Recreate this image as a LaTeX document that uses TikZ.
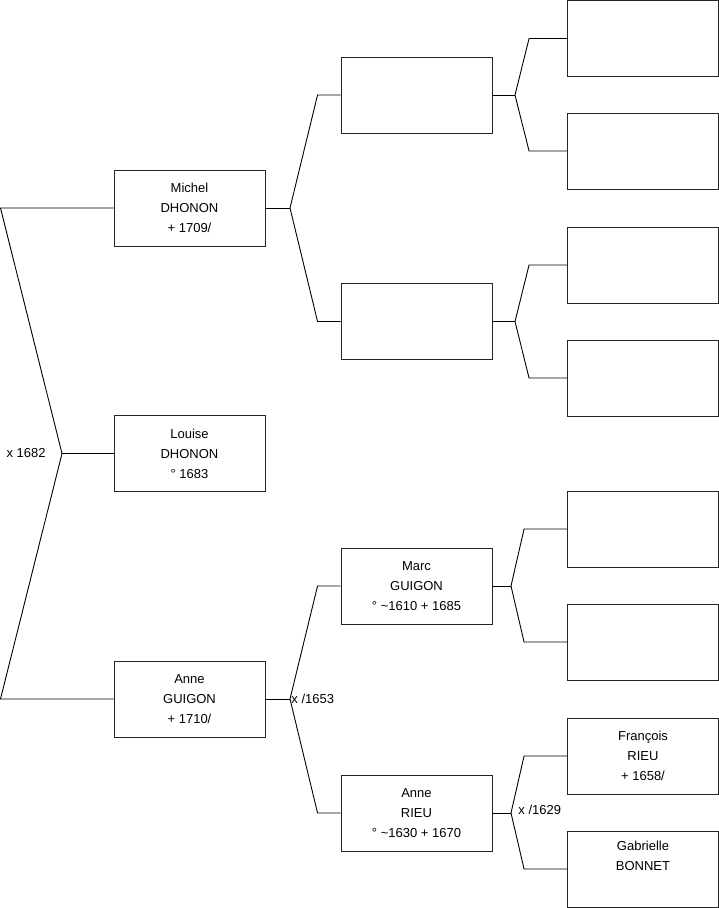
\documentclass[tikz,border=0pt]{standalone}
\usepackage{fontspec}
\setmainfont{Liberation Sans}
\usetikzlibrary{positioning}

\begin{document}
\begin{tikzpicture}[x=1pt,y=-1pt,line width=0.9pt]
    \tikzstyle{person}=[draw=black!85,fill=white,minimum width=151pt,minimum height=76pt,inner sep=0pt,font=\fontsize{13}{20}\selectfont,align=center]
    \tikzstyle{union}=[font=\fontsize{13}{15}\selectfont,inner sep=1pt]
    \useasboundingbox (0,0) rectangle (719,908);
    % generation 1
    \node[person] (michel) at (189.5,208) {Michel\\DHONON\\+ 1709/};
    \node[person] (louise) at (189.5,453.5) {Louise\\DHONON\\° 1683};
    \node[person] (anneg) at (189.5,699) {Anne\\GUIGON\\+ 1710/};
    % generation 2
    \node[person] (pa) at (416.5,95) {};
    \node[person] (pb) at (416.5,321.5) {};
    \node[person] (marc) at (416.5,586) {Marc\\GUIGON\\° \textasciitilde1610 + 1685};
    \node[person] (anner) at (416.5,813) {Anne\\RIEU\\° \textasciitilde1630 + 1670};
    % generation 3
    \node[person] (ga) at (643,38.5) {};
    \node[person] (gb) at (643,151) {};
    \node[person] (gc) at (643,265) {};
    \node[person] (gd) at (643,378) {};
    \node[person] (ge) at (643,529) {};
    \node[person] (gf) at (643,642) {};
    \node[person] (francois) at (643,756) {François\\RIEU\\+ 1658/};
    \node[person] (gabrielle) at (643,869) {Gabrielle\\BONNET\\\strut};
    % fork points
    \coordinate (r1) at (0.5,208);
    \coordinate (r2) at (0.5,699);
    \coordinate (f0) at (62,453.5);
    \coordinate (fm) at (290,208);
    \coordinate (fa) at (290,699);
    \coordinate (fpa) at (515,95);
    \coordinate (fpb) at (515,321.5);
    \coordinate (fmarc) at (511,586);
    \coordinate (fanne) at (511,813);
    % connectors
    \draw (michel.west) -- (r1) -- (f0) -- (r2) -- (anneg.west);
    \draw (f0) -- (louise.west);
    \draw (michel.east) -- (fm);
    \draw (fm) -- ([xshift=-23pt]pa.west) -- (pa.west);
    \draw (fm) -- ([xshift=-23pt]pb.west) -- (pb.west);
    \draw (anneg.east) -- (fa);
    \draw (fa) -- ([xshift=-23pt]marc.west) -- (marc.west);
    \draw (fa) -- ([xshift=-23pt]anner.west) -- (anner.west);
    \draw (pa.east) -- (fpa);
    \draw (fpa) -- ([xshift=-38pt]ga.west) -- (ga.west);
    \draw (fpa) -- ([xshift=-38pt]gb.west) -- (gb.west);
    \draw (pb.east) -- (fpb);
    \draw (fpb) -- ([xshift=-38pt]gc.west) -- (gc.west);
    \draw (fpb) -- ([xshift=-38pt]gd.west) -- (gd.west);
    \draw (marc.east) -- (fmarc);
    \draw (fmarc) -- ([xshift=-43pt]ge.west) -- (ge.west);
    \draw (fmarc) -- ([xshift=-43pt]gf.west) -- (gf.west);
    \draw (anner.east) -- (fanne);
    \draw (fanne) -- ([xshift=-43pt]francois.west) -- (francois.west);
    \draw (fanne) -- ([xshift=-43pt]gabrielle.west) -- (gabrielle.west);
    % marriages
    \node[union,anchor=east] (m1682) at ([xshift=-15pt]f0) {x 1682};
    \node[union,anchor=west] (m1653) at ([xshift=0pt]fa) {x /1653};
    \node[union,anchor=west] (m1629) at ([xshift=6pt,yshift=3pt]fanne) {x /1629};
\end{tikzpicture}
\end{document}
